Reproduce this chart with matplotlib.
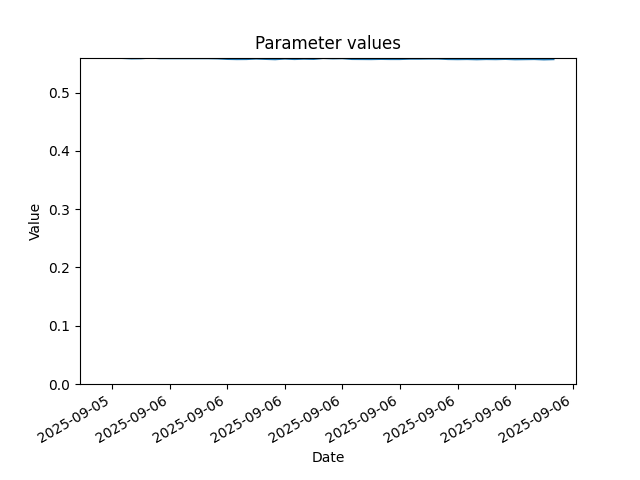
import matplotlib
matplotlib.use("Agg")
import matplotlib.pyplot as plt
import matplotlib.dates as mdates
import pandas as pd

# half-hourly readings, 2025-09-05 20:30 -> 2025-09-06 20:00
times = pd.date_range("2025-09-05 20:30", "2025-09-06 20:00", freq="30min")
values = [
    0.5602, 0.5602, 0.5596, 0.5588, 0.5590, 0.5602, 0.5591, 0.5591,
    0.5591, 0.5591, 0.5591, 0.5591, 0.5588, 0.5579, 0.5576, 0.5577,
    0.5585, 0.5579, 0.5574, 0.5585, 0.5577, 0.5583, 0.5579, 0.5594,
    0.5588, 0.5591, 0.5578, 0.5577, 0.5576, 0.5579, 0.5577, 0.5577,
    0.5583, 0.5583, 0.5585, 0.5585, 0.5577, 0.5575, 0.5577, 0.5573,
    0.5577, 0.5575, 0.5579, 0.5573, 0.5575, 0.5577, 0.5571, 0.5575,
]

fig, ax = plt.subplots(figsize=(6.4, 4.8), dpi=100)
ax.plot(times, values)
ax.set_ylim(0, max(values))
ax.xaxis.set_major_locator(mdates.HourLocator(byhour=range(0, 24, 3)))
ax.xaxis.set_major_formatter(mdates.DateFormatter("%Y-%m-%d"))
fig.autofmt_xdate()
ax.set_title("Parameter values")
ax.set_xlabel("Date")
ax.set_ylabel("Value")
fig.savefig("out.png")
